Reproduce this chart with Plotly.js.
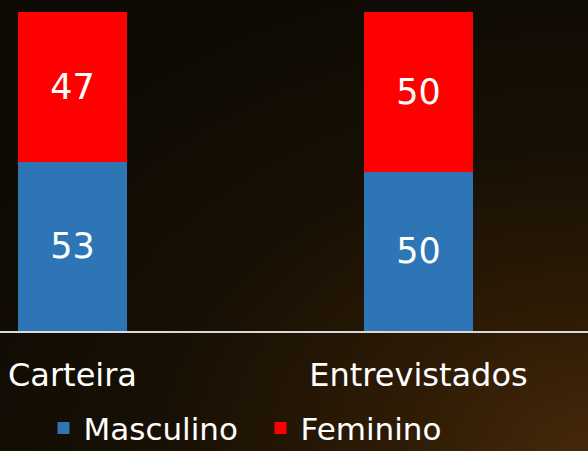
<!DOCTYPE html>
<html>
<head>
<meta charset="utf-8">
<script src="https://cdn.plot.ly/plotly-3.0.1.min.js"></script>
<style>
html,body{margin:0;padding:0;}
body{width:588px;height:451px;overflow:hidden;
background:
 radial-gradient(ellipse 120% 110% at 100% 100%, #45280a 0%, #2c1a05 30%, #181004 60%, #0e0a04 100%);}
#chart{width:588px;height:451px;}
</style>
</head>
<body>
<div id="chart"></div>
<script>
var categories = ["Carteira", "Entrevistados"];
var masculino = [53, 50];
var feminino = [47, 50];
var seriesNames = ["Masculino", "Feminino"];

var font = "DejaVu Sans, Verdana, sans-serif";

var traces = [
  {type: "bar", name: seriesNames[0], x: categories, y: masculino,
   marker: {color: "#2e75b6"}, text: masculino.map(String),
   textposition: "inside", insidetextanchor: "middle",
   textfont: {color: "#ffffff", size: 35, family: font}, hoverinfo: "none"},
  {type: "bar", name: seriesNames[1], x: categories, y: feminino,
   marker: {color: "#ff0000"}, text: feminino.map(String),
   textposition: "inside", insidetextanchor: "middle",
   textfont: {color: "#ffffff", size: 35, family: font}, hoverinfo: "none"}
];

var layout = {
  width: 588, height: 451,
  margin: {l: 0, r: 0, t: 12, b: 120, autoexpand: false},
  paper_bgcolor: "rgba(0,0,0,0)",
  plot_bgcolor: "rgba(0,0,0,0)",
  barmode: "stack",
  bargap: 0.685,
  showlegend: true,
  legend: {orientation: "h", x: 0.074, xanchor: "left", yref: "container", y: 0.05, yanchor: "middle",
           entrywidth: 172,
           font: {color: "#ffffff", size: 31, family: font}, traceorder: "normal",
           bgcolor: "rgba(0,0,0,0)"},
  xaxis: {type: "category", range: [-0.2095, 1.49], showgrid: false, zeroline: false,
          showline: true, linecolor: "#d9d9d9", linewidth: 2, ticks: "",
          ticklabelstandoff: 15, automargin: false,
          tickfont: {color: "#ffffff", size: 32, family: font}, fixedrange: true},
  yaxis: {range: [0, 100], visible: false, showgrid: false, zeroline: false, fixedrange: true},
  font: {family: font, color: "#ffffff"}
};

Plotly.newPlot("chart", traces, layout, {staticPlot: true, displayModeBar: false});
</script>
</body>
</html>
